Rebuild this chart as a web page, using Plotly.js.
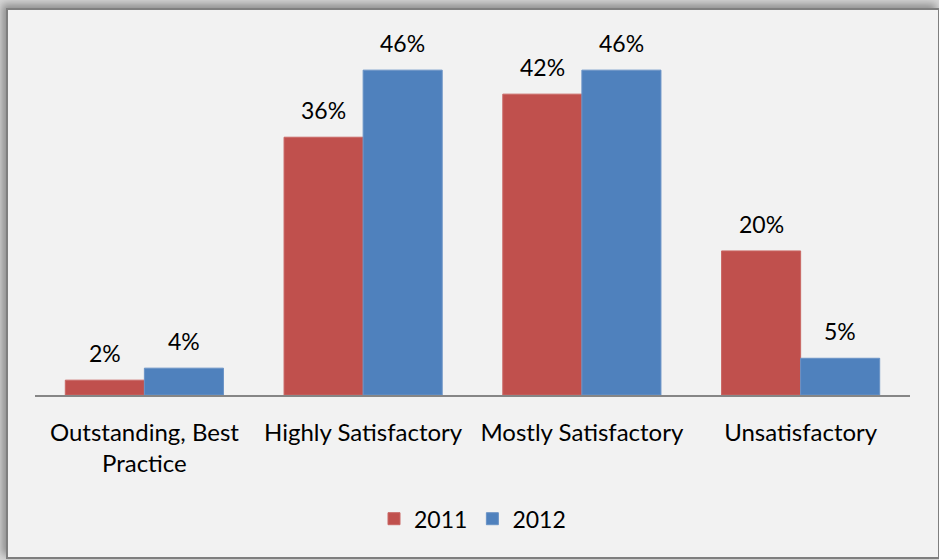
<!DOCTYPE html>
<html>
<head>
<meta charset="utf-8">
<script src="https://cdn.plot.ly/plotly-3.0.1.min.js"></script>
<style>
  html, body { margin:0; padding:0; background:#ffffff; }
  #frame { position:absolute; left:0; top:0; width:939px; height:560px; overflow:hidden; background:#d8d8d8; }
  #box { position:absolute; left:6px; top:8px; width:930px; height:547px; background:#F2F2F2; border:2px solid #7f7f7f; box-shadow:-4px -4px 8px rgba(0,0,0,0.35); }
  #chart { position:absolute; left:0; top:0; width:939px; height:560px; }
</style>
</head>
<body>
<div id="frame"><div id="box"></div><div id="chart"></div></div>
<script>
const categories = ["Outstanding, Best<br>Practice", "Highly Satisfactory", "Mostly Satisfactory", "Unsatisfactory"];
const values2011 = [2.1, 36.5, 42.6, 20.4];
const values2012 = [3.8, 46, 46, 5.2];
const labels2011 = ["2%", "36%", "42%", "20%"];
const labels2012 = ["4%", "46%", "46%", "5%"];

const fontFam = "Lato, 'Open Sans', sans-serif";

const traces = [
  { type:"bar", name:"2011", x:categories, y:values2011,
    marker:{color:"#C0504D", line:{color:"#c96764", width:1}}, hoverinfo:"none" },
  { type:"bar", name:"2012", x:categories, y:values2012,
    marker:{color:"#4F81BD", line:{color:"#6a93c6", width:1}}, hoverinfo:"none" }
];

const annotations = [];
categories.forEach((c, i) => {
  annotations.push({x:c, y:values2011[i], text:labels2011[i], showarrow:false, xanchor:"center", yanchor:"bottom", xshift:-39.5, yshift:11, font:{family:fontFam, size:23, color:"#000"}});
  annotations.push({x:c, y:values2012[i], text:labels2012[i], showarrow:false, xanchor:"center", yanchor:"bottom", xshift:39.5, yshift:11, font:{family:fontFam, size:23, color:"#000"}});
});

const layout = {
  width:939, height:560,
  margin:{l:35, r:29, t:20, b:165},
  paper_bgcolor:"rgba(0,0,0,0)", plot_bgcolor:"rgba(0,0,0,0)",
  barmode:"group", bargap:0.277, bargroupgap:0,
  font:{family:fontFam, size:23, color:"#000"},
  xaxis:{showline:true, linecolor:"#868686", linewidth:2, ticks:"", showgrid:false, zeroline:false,
         ticklabelstandoff:15,
         tickfont:{family:fontFam, size:24, color:"#000"}, fixedrange:true},
  yaxis:{range:[0, 53.1], visible:false, showgrid:false, zeroline:false, fixedrange:true},
  showlegend:true,
  legend:{orientation:"h", x:0.5, xanchor:"center", y:-0.33, yanchor:"middle", font:{family:fontFam, size:23, color:"#000"}, bgcolor:"rgba(0,0,0,0)"},
  annotations:annotations
};

Plotly.newPlot("chart", traces, layout, {displayModeBar:false, staticPlot:true});
</script>
</body>
</html>
